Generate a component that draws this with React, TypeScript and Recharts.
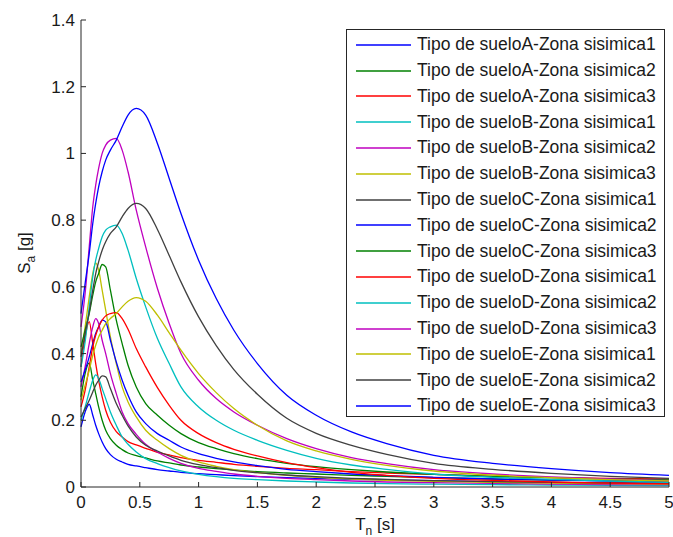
import { LineChart, Line, XAxis, YAxis, Legend } from "recharts";

// periods Tn [s] shared by all spectra
const periods = [
  0, 0.035, 0.07, 0.1, 0.125, 0.15, 0.18, 0.21, 0.25, 0.3,
  0.35, 0.4, 0.47, 0.55, 0.65, 0.75, 0.85, 1.0, 1.15, 1.3,
  1.5, 1.75, 2.0, 2.3, 2.6, 3.0, 3.5, 4.0, 4.5, 5.0,
];

// Sa [g]
const sueloA1 = [0.18, 0.225, 0.248, 0.215, 0.185, 0.16, 0.135, 0.115, 0.097, 0.083, 0.075, 0.068, 0.063, 0.058, 0.052, 0.048, 0.044, 0.04, 0.037, 0.034, 0.031, 0.028, 0.026, 0.023, 0.021, 0.019, 0.016, 0.014, 0.013, 0.012];
const sueloA2 = [0.27, 0.34, 0.372, 0.32, 0.28, 0.24, 0.2, 0.17, 0.145, 0.125, 0.112, 0.102, 0.094, 0.087, 0.078, 0.072, 0.066, 0.06, 0.055, 0.051, 0.046, 0.042, 0.039, 0.035, 0.032, 0.028, 0.024, 0.021, 0.019, 0.018];
const sueloA3 = [0.36, 0.45, 0.496, 0.43, 0.37, 0.32, 0.27, 0.23, 0.194, 0.166, 0.15, 0.136, 0.126, 0.116, 0.104, 0.096, 0.088, 0.08, 0.074, 0.068, 0.062, 0.056, 0.052, 0.046, 0.042, 0.038, 0.032, 0.028, 0.026, 0.024];
const sueloB1 = [0.2, 0.24, 0.285, 0.32, 0.336, 0.325, 0.295, 0.265, 0.225, 0.185, 0.15, 0.128, 0.105, 0.085, 0.07, 0.058, 0.048, 0.038, 0.031, 0.026, 0.022, 0.018, 0.015, 0.012, 0.01, 0.0085, 0.007, 0.006, 0.005, 0.0045];
const sueloB2 = [0.3, 0.36, 0.43, 0.48, 0.505, 0.49, 0.44, 0.4, 0.34, 0.28, 0.225, 0.19, 0.158, 0.128, 0.105, 0.086, 0.071, 0.056, 0.047, 0.039, 0.032, 0.026, 0.022, 0.018, 0.015, 0.013, 0.011, 0.009, 0.0075, 0.007];
const sueloB3 = [0.4, 0.48, 0.57, 0.64, 0.672, 0.65, 0.59, 0.53, 0.45, 0.37, 0.3, 0.255, 0.21, 0.17, 0.14, 0.115, 0.095, 0.075, 0.062, 0.052, 0.043, 0.035, 0.029, 0.024, 0.02, 0.017, 0.014, 0.012, 0.01, 0.009];
const sueloC1 = [0.21, 0.235, 0.26, 0.285, 0.305, 0.32, 0.333, 0.33, 0.295, 0.25, 0.215, 0.183, 0.15, 0.125, 0.108, 0.093, 0.08, 0.067, 0.058, 0.05, 0.043, 0.036, 0.031, 0.026, 0.023, 0.019, 0.016, 0.014, 0.012, 0.011];
const sueloC2 = [0.315, 0.35, 0.39, 0.43, 0.46, 0.48, 0.5, 0.495, 0.44, 0.375, 0.32, 0.275, 0.225, 0.19, 0.16, 0.14, 0.12, 0.1, 0.086, 0.075, 0.064, 0.053, 0.046, 0.039, 0.034, 0.029, 0.024, 0.021, 0.018, 0.016];
const sueloC3 = [0.42, 0.47, 0.52, 0.575, 0.615, 0.64, 0.667, 0.66, 0.59, 0.5, 0.43, 0.365, 0.3, 0.25, 0.215, 0.185, 0.16, 0.133, 0.115, 0.1, 0.085, 0.071, 0.061, 0.052, 0.045, 0.038, 0.032, 0.028, 0.024, 0.021];
const sueloD1 = [0.24, 0.29, 0.36, 0.42, 0.455, 0.48, 0.5, 0.513, 0.52, 0.523, 0.505, 0.473, 0.415, 0.36, 0.298, 0.245, 0.2, 0.16, 0.133, 0.113, 0.093, 0.073, 0.058, 0.044, 0.035, 0.026, 0.02, 0.015, 0.012, 0.0095];
const sueloD2 = [0.36, 0.435, 0.54, 0.63, 0.68, 0.715, 0.75, 0.77, 0.78, 0.785, 0.76, 0.71, 0.625, 0.54, 0.445, 0.37, 0.3, 0.24, 0.2, 0.17, 0.14, 0.11, 0.086, 0.066, 0.053, 0.039, 0.029, 0.023, 0.018, 0.014];
const sueloD3 = [0.48, 0.58, 0.72, 0.84, 0.905, 0.955, 1.0, 1.025, 1.04, 1.045, 1.01, 0.945, 0.83, 0.72, 0.595, 0.49, 0.4, 0.32, 0.265, 0.225, 0.185, 0.145, 0.115, 0.088, 0.07, 0.052, 0.039, 0.03, 0.024, 0.019];
const sueloE1 = [0.26, 0.305, 0.35, 0.395, 0.425, 0.45, 0.47, 0.49, 0.505, 0.52, 0.54, 0.557, 0.568, 0.557, 0.515, 0.462, 0.41, 0.34, 0.283, 0.235, 0.185, 0.138, 0.108, 0.083, 0.065, 0.048, 0.036, 0.028, 0.022, 0.018];
const sueloE2 = [0.39, 0.46, 0.525, 0.59, 0.64, 0.675, 0.71, 0.735, 0.76, 0.78, 0.81, 0.835, 0.85, 0.835, 0.772, 0.694, 0.615, 0.51, 0.424, 0.352, 0.278, 0.206, 0.161, 0.125, 0.098, 0.071, 0.053, 0.041, 0.032, 0.026];
const sueloE3 = [0.52, 0.61, 0.7, 0.79, 0.85, 0.9, 0.945, 0.98, 1.01, 1.04, 1.08, 1.115, 1.135, 1.115, 1.03, 0.925, 0.82, 0.68, 0.565, 0.47, 0.37, 0.275, 0.215, 0.165, 0.13, 0.095, 0.071, 0.055, 0.043, 0.035];

const xTicks = [0, 0.5, 1, 1.5, 2, 2.5, 3, 3.5, 4, 4.5, 5];
const yTicks = [0, 0.2, 0.4, 0.6, 0.8, 1, 1.2, 1.4];

// old matlab colour order
const C_BLUE = "#0000ff";
const C_GREEN = "#008000";
const C_RED = "#ff0000";
const C_CYAN = "#00bfbf";
const C_MAGENTA = "#bf00bf";
const C_YELLOW = "#bfbf00";
const C_DARK = "#404040";

const SERIES = [
  { key: "A1", name: "Tipo de sueloA-Zona sisimica1", color: C_BLUE, values: sueloA1 },
  { key: "A2", name: "Tipo de sueloA-Zona sisimica2", color: C_GREEN, values: sueloA2 },
  { key: "A3", name: "Tipo de sueloA-Zona sisimica3", color: C_RED, values: sueloA3 },
  { key: "B1", name: "Tipo de sueloB-Zona sisimica1", color: C_CYAN, values: sueloB1 },
  { key: "B2", name: "Tipo de sueloB-Zona sisimica2", color: C_MAGENTA, values: sueloB2 },
  { key: "B3", name: "Tipo de sueloB-Zona sisimica3", color: C_YELLOW, values: sueloB3 },
  { key: "C1", name: "Tipo de sueloC-Zona sisimica1", color: C_DARK, values: sueloC1 },
  { key: "C2", name: "Tipo de sueloC-Zona sisimica2", color: C_BLUE, values: sueloC2 },
  { key: "C3", name: "Tipo de sueloC-Zona sisimica3", color: C_GREEN, values: sueloC3 },
  { key: "D1", name: "Tipo de sueloD-Zona sisimica1", color: C_RED, values: sueloD1 },
  { key: "D2", name: "Tipo de sueloD-Zona sisimica2", color: C_CYAN, values: sueloD2 },
  { key: "D3", name: "Tipo de sueloD-Zona sisimica3", color: C_MAGENTA, values: sueloD3 },
  { key: "E1", name: "Tipo de sueloE-Zona sisimica1", color: C_YELLOW, values: sueloE1 },
  { key: "E2", name: "Tipo de sueloE-Zona sisimica2", color: C_DARK, values: sueloE2 },
  { key: "E3", name: "Tipo de sueloE-Zona sisimica3", color: C_BLUE, values: sueloE3 },
];

const rows = periods.map((t, i) => {
  const row: Record<string, number> = { t };
  SERIES.forEach((s) => {
    row[s.key] = s.values[i];
  });
  return row;
});

const AXIS = "#262626";
const TEXT = "#1a1a1a";
const FONT = '"Liberation Sans", Arial, sans-serif';
const TICK_LEN = 5;

function BottomTick({ x, y, payload }: any) {
  return (
    <g>
      <line x1={x} x2={x} y1={y} y2={y - TICK_LEN} stroke={AXIS} />
      <text x={x} y={y + 21} textAnchor="middle" fontSize={17} fill={TEXT} fontFamily={FONT}>
        {payload.value}
      </text>
    </g>
  );
}

function LeftTick({ x, y, payload }: any) {
  return (
    <g>
      <line x1={x} x2={x + TICK_LEN} y1={y} y2={y} stroke={AXIS} />
      <text x={x - 6} y={y + 6} textAnchor="end" fontSize={17} fill={TEXT} fontFamily={FONT}>
        {payload.value}
      </text>
    </g>
  );
}

function TopTick({ x, y }: any) {
  return <line x1={x} x2={x} y1={y} y2={y + TICK_LEN} stroke={AXIS} />;
}

function RightTick({ x, y }: any) {
  return <line x1={x} x2={x - TICK_LEN} y1={y} y2={y} stroke={AXIS} />;
}

function XTitle() {
  return (
    <text x={375} y={530} textAnchor="middle" fontSize={17} fill={TEXT} fontFamily={FONT}>
      T
      <tspan dy={5} fontSize={12}>n</tspan>
      <tspan dy={-5}> [s]</tspan>
    </text>
  );
}

function YTitle() {
  return (
    <text
      transform="translate(30,253) rotate(-90)"
      textAnchor="middle"
      fontSize={17}
      fill={TEXT}
      fontFamily={FONT}
    >
      S
      <tspan dy={5} fontSize={12}>a</tspan>
      <tspan dy={-5}> [g]</tspan>
    </text>
  );
}

function LegendBox({ payload }: any) {
  return (
    <div
      style={{
        boxSizing: "border-box",
        width: 319,
        height: 388,
        border: `1px solid ${AXIS}`,
        background: "#fff",
        paddingTop: 2,
        fontFamily: FONT,
        fontSize: 17.5,
        color: TEXT,
      }}
    >
      {(payload || []).map((p: any) => (
        <div
          key={p.value}
          style={{ display: "flex", alignItems: "center", height: 25.8, paddingLeft: 9 }}
        >
          <svg width={55} height={4} style={{ marginRight: 6 }}>
            <line x1={0} x2={55} y1={2} y2={2} stroke={p.color} strokeWidth={1.5} />
          </svg>
          <span style={{ whiteSpace: "nowrap", lineHeight: 1 }}>{p.value}</span>
        </div>
      ))}
    </div>
  );
}

export default function App() {
  return (
    <div style={{ position: "absolute", left: 0, top: 0, background: "#fff" }}>
      <LineChart
        width={673}
        height={537}
        data={rows}
        margin={{ top: 20, right: 4, bottom: 0, left: 0 }}
      >
        <XAxis
          dataKey="t"
          type="number"
          domain={[0, 5]}
          ticks={xTicks}
          interval={0}
          height={50}
          tickSize={0}
          tickMargin={0}
          tickLine={false}
          axisLine={{ stroke: AXIS }}
          tick={<BottomTick />}
          label={<XTitle />}
        />
        <XAxis
          xAxisId="top"
          orientation="top"
          type="number"
          domain={[0, 5]}
          ticks={xTicks}
          interval={0}
          height={0}
          tickSize={0}
          tickMargin={0}
          tickLine={false}
          axisLine={{ stroke: AXIS }}
          tick={<TopTick />}
        />
        <YAxis
          type="number"
          domain={[0, 1.4]}
          ticks={yTicks}
          interval={0}
          width={81}
          tickSize={0}
          tickMargin={0}
          tickLine={false}
          axisLine={{ stroke: AXIS }}
          tick={<LeftTick />}
          label={<YTitle />}
        />
        <YAxis
          yAxisId="right"
          orientation="right"
          type="number"
          domain={[0, 1.4]}
          ticks={yTicks}
          interval={0}
          width={0}
          tickSize={0}
          tickMargin={0}
          tickLine={false}
          axisLine={{ stroke: AXIS }}
          tick={<RightTick />}
        />
        {SERIES.map((s) => (
          <Line
            key={s.key}
            dataKey={s.key}
            name={s.name}
            type="monotone"
            stroke={s.color}
            strokeWidth={1.3}
            dot={false}
            activeDot={false}
            isAnimationActive={false}
          />
        ))}
        <Legend
          layout="vertical"
          align="center"
          verticalAlign="middle"
          content={<LegendBox />}
          wrapperStyle={{ left: 346, top: 29, width: 319, height: 388 }}
        />
      </LineChart>
    </div>
  );
}
